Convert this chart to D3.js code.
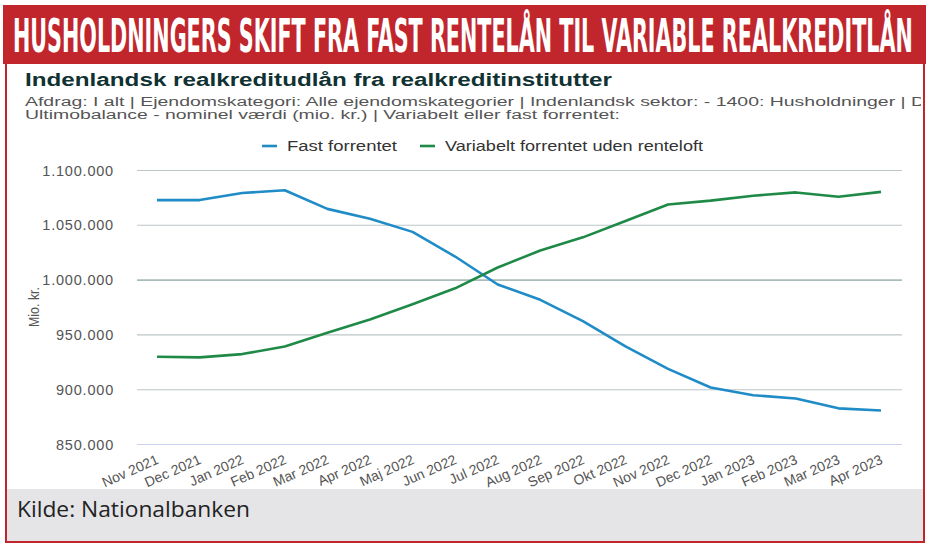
<!DOCTYPE html>
<html><head><meta charset="utf-8">
<script src="https://cdn.jsdelivr.net/npm/d3@7"></script>
<style>
html,body{margin:0;padding:0;background:#fff;}
svg{display:block;}
</style></head>
<body>
<script>
// ---- data ----
const months = ["Nov 2021","Dec 2021","Jan 2022","Feb 2022","Mar 2022","Apr 2022","Maj 2022","Jun 2022","Jul 2022","Aug 2022","Sep 2022","Okt 2022","Nov 2022","Dec 2022","Jan 2023","Feb 2023","Mar 2023","Apr 2023"];
const fastForrentet = [1073000,1073000,1079500,1082000,1065000,1056000,1044000,1021500,996000,982000,962500,939500,919000,902000,895000,892000,883000,881000];
const variabelt = [930000,929500,932500,939500,952000,964000,978000,992500,1011500,1027000,1039000,1054000,1069000,1072500,1077000,1080000,1076000,1080500];
const yTicks = [850000,900000,950000,1000000,1050000,1100000];
const seriesNames = ["Fast forrentet","Variabelt forrentet uden renteloft"];
const seriesColors = ["#1f8bc7","#1f8a47"];

const W = 931, H = 547;
const svg = d3.select("body").append("svg").attr("width", W).attr("height", H);

// frame
svg.append("rect").attr("x",6).attr("y",20).attr("width",918).attr("height",522)
  .attr("fill","#fff").attr("stroke","#c0252c").attr("stroke-width",2);
// footer
svg.append("rect").attr("x",7).attr("y",489).attr("width",916).attr("height",52).attr("fill","#e5e5e7");
svg.append("text").attr("x",17).attr("y",517).attr("font-family","'Open Sans', sans-serif")
  .attr("font-size",22).attr("fill","#222")
  .attr("textLength",233).attr("lengthAdjust","spacingAndGlyphs")
  .text("Kilde: Nationalbanken");
// banner
svg.append("rect").attr("x",3).attr("y",5).attr("width",923).attr("height",59).attr("fill","#c1262d");
const bt = svg.append("text").attr("x",0).attr("y",0)
  .attr("font-family","'Liberation Sans Narrow','DejaVu Sans Condensed',sans-serif")
  .attr("font-weight","bold").attr("font-size",46).attr("fill","#fff")
  .text("HUSHOLDNINGERS SKIFT FRA FAST RENTELÅN TIL VARIABLE REALKREDITLÅN");
const bw = bt.node().getComputedTextLength();
bt.attr("transform", `translate(13,52) scale(${900/bw},1)`);

// chart titles
svg.append("text").attr("x",25).attr("y",86).attr("font-family","'Liberation Sans',Arial,sans-serif")
  .attr("font-weight","bold").attr("font-size",18).attr("fill","#103232")
  .attr("textLength",587).attr("lengthAdjust","spacingAndGlyphs")
  .text("Indenlandsk realkreditudlån fra realkreditinstitutter");
svg.append("clipPath").attr("id","cl").append("rect").attr("x",0).attr("y",0).attr("width",921).attr("height",547);
const sub = svg.append("g").attr("clip-path","url(#cl)");
sub.append("text").attr("x",25).attr("y",105.5).attr("font-family","'Liberation Sans',Arial,sans-serif")
  .attr("font-size",12.5).attr("fill","#555")
  .attr("textLength",900).attr("lengthAdjust","spacingAndGlyphs")
  .text("Afdrag: I alt | Ejendomskategori: Alle ejendomskategorier | Indenlandsk sektor: - 1400: Husholdninger | D");
sub.append("text").attr("x",25).attr("y",119).attr("font-family","'Liberation Sans',Arial,sans-serif")
  .attr("font-size",12.5).attr("fill","#555")
  .attr("textLength",595).attr("lengthAdjust","spacingAndGlyphs")
  .text("Ultimobalance - nominel værdi (mio. kr.) | Variabelt eller fast forrentet:");

// scales
const x = d3.scalePoint().domain(months).range([157, 881]);
const y = d3.scaleLinear().domain([850000, 1100000]).range([444.5, 170.5]);
const loc = d3.formatLocale({decimal:",", thousands:".", grouping:[3], currency:["",""]});
const fmt = loc.format(",");

// grid
const grid = svg.append("g");
yTicks.forEach(t => {
  grid.append("line").attr("x1",137).attr("x2",902).attr("y1",y(t)).attr("y2",y(t))
    .attr("stroke", t===850000 ? "#c9d3ee" : (t===1000000 ? "#a9bcbb" : "#bcc6c7"))
    .attr("stroke-width", t===1000000 ? 1.6 : 1.1);
});
// y axis labels via d3 axis
const yAxis = d3.axisLeft(y).tickValues(yTicks).tickFormat(fmt).tickSize(0).tickPadding(0);
const ya = svg.append("g").attr("transform","translate(114,0)").call(yAxis);
ya.select(".domain").remove();
ya.selectAll("text").attr("font-family","'Liberation Sans',Arial,sans-serif").attr("font-size",14.5)
  .attr("fill","#555").attr("letter-spacing","0.8px");

svg.append("text").attr("transform","translate(39,307) rotate(-90)").attr("text-anchor","middle")
  .attr("font-family","'Liberation Sans',sans-serif").attr("font-size",15).attr("fill","#555")
  .attr("textLength",40).attr("lengthAdjust","spacingAndGlyphs")
  .text("Mio. kr.");

// x axis labels
const xAxis = d3.axisBottom(x).tickSize(0).tickPadding(0);
const xa = svg.append("g").attr("transform","translate(0,452)").call(xAxis);
xa.select(".domain").remove();
xa.selectAll("text").attr("font-family","'Liberation Sans',Arial,sans-serif").attr("font-size",14)
  .attr("fill","#555").attr("text-anchor","end").attr("dy","0")
  .attr("transform","translate(2,11) rotate(-24)");

// lines
const line = d3.line().x((d,i)=>x(months[i])).y(d=>y(d));
[fastForrentet, variabelt].forEach((s,k)=>{
  svg.append("path").attr("d", line(s)).attr("fill","none")
    .attr("stroke", seriesColors[k]).attr("stroke-width",2.6).attr("stroke-linejoin","round");
});

// legend
const lg = svg.append("g");
const legX = [262, 420];
const legW = [110, 258];
seriesNames.forEach((n,k)=>{
  lg.append("line").attr("x1",legX[k]).attr("x2",legX[k]+15).attr("y1",146).attr("y2",146)
    .attr("stroke",seriesColors[k]).attr("stroke-width",2.6);
  lg.append("text").attr("x",legX[k]+25).attr("y",151).attr("font-family","'Liberation Sans',Arial,sans-serif")
    .attr("font-size",14).attr("fill","#333")
    .attr("textLength",legW[k]).attr("lengthAdjust","spacingAndGlyphs").text(n);
});
</script>
</body></html>
